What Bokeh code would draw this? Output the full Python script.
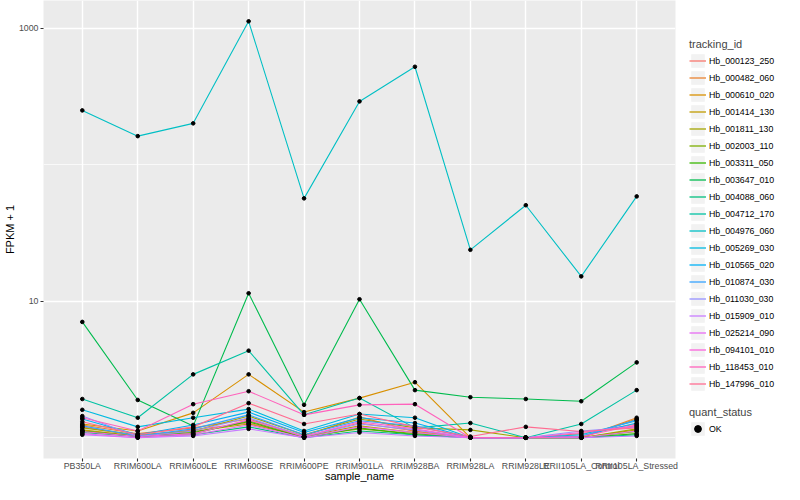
import numpy as np
from bokeh.plotting import figure
from bokeh.layouts import row
from bokeh.models import (FactorRange, Range1d, FixedTicker, Legend, LegendItem,
                          ColumnDataSource, NumeralTickFormatter)
from bokeh.embed import file_html
from bokeh.resources import INLINE

FONT = "Liberation Sans"

samples = ["PB350LA", "RRIM600LA", "RRIM600LE", "RRIM600SE", "RRIM600PE",
           "RRIM901LA", "RRIM928BA", "RRIM928LA", "RRIM928LE",
           "RRII105LA_Control", "RRII105LA_Stressed"]

tracking_ids = ["Hb_000123_250", "Hb_000482_060", "Hb_000610_020", "Hb_001414_130",
                "Hb_001811_130", "Hb_002003_110", "Hb_003311_050", "Hb_003647_010",
                "Hb_004088_060", "Hb_004712_170", "Hb_004976_060", "Hb_005269_030",
                "Hb_010565_020", "Hb_010874_030", "Hb_011030_030", "Hb_015909_010",
                "Hb_025214_090", "Hb_094101_010", "Hb_118453_010", "Hb_147996_010"]

colors = ["#F8766D", "#EA8331", "#D89000", "#C09B00", "#A3A500", "#7CAE00",
          "#39B600", "#00BB4E", "#00BF7D", "#00C1A3", "#00BFC4", "#00BAE0",
          "#00B0F6", "#35A2FF", "#9590FF", "#C77CFF", "#E76BF3", "#FA62DB",
          "#FF62BC", "#FF6C91"]

# FPKM values per gene (plotted as FPKM + 1)
hb_000123_250 = [0.20, 0.03, 0.14, 0.28, 0.02, 0.28, 0.12, 0.00, 0.00, 0.07, 0.26]
hb_000482_060 = [0.24, 0.07, 0.18, 0.37, 0.03, 0.42, 0.11, 0.00, 0.00, 0.00, 0.40]
hb_000610_020 = [0.26, 0.12, 0.52, 1.91, 0.54, 0.95, 1.55, 0.00, 0.00, 0.00, 0.37]
hb_001414_130 = [0.14, 0.03, 0.11, 0.26, 0.02, 0.22, 0.09, 0.00, 0.00, 0.00, 0.14]
hb_001811_130 = [0.18, 0.05, 0.12, 0.44, 0.05, 0.37, 0.18, 0.14, 0.00, 0.00, 0.16]
hb_002003_110 = [0.12, 0.02, 0.07, 0.33, 0.02, 0.16, 0.07, 0.00, 0.00, 0.00, 0.11]
hb_003311_050 = [0.12, 0.02, 0.09, 0.31, 0.00, 0.18, 0.05, 0.00, 0.00, 0.00, 0.07]
hb_003647_010 = [6.05, 0.89, 0.22, 10.43, 0.74, 9.34, 1.23, 0.98, 0.92, 0.85, 2.56]
hb_004088_060 = [0.09, 0.02, 0.05, 0.20, 0.00, 0.12, 0.05, 0.00, 0.00, 0.00, 0.05]
hb_004712_170 = [0.92, 0.40, 1.91, 3.34, 0.47, 0.95, 0.18, 0.28, 0.00, 0.26, 1.23]
hb_004976_060 = [249.0, 161.0, 200.0, 1123.0, 55.7, 290.0, 521.0, 22.8, 49.5, 14.2, 57.6]
hb_005269_030 = [0.60, 0.20, 0.40, 0.62, 0.12, 0.49, 0.40, 0.00, 0.00, 0.05, 0.33]
hb_010565_020 = [0.37, 0.05, 0.24, 0.54, 0.09, 0.40, 0.28, 0.00, 0.00, 0.03, 0.28]
hb_010874_030 = [0.22, 0.03, 0.16, 0.47, 0.05, 0.33, 0.22, 0.00, 0.00, 0.02, 0.35]
hb_011030_030 = [0.44, 0.02, 0.12, 0.40, 0.02, 0.26, 0.14, 0.00, 0.00, 0.12, 0.20]
hb_015909_010 = [0.05, 0.00, 0.03, 0.16, 0.00, 0.09, 0.03, 0.00, 0.00, 0.00, 0.03]
hb_025214_090 = [0.07, 0.00, 0.05, 0.24, 0.00, 0.20, 0.09, 0.00, 0.00, 0.00, 0.12]
hb_094101_010 = [0.11, 0.02, 0.07, 0.35, 0.02, 0.31, 0.16, 0.00, 0.00, 0.09, 0.22]
hb_118453_010 = [0.40, 0.12, 0.76, 1.19, 0.47, 0.74, 0.76, 0.00, 0.00, 0.02, 0.24]
hb_147996_010 = [0.31, 0.05, 0.20, 0.79, 0.26, 0.49, 0.20, 0.02, 0.20, 0.11, 0.18]

series = [hb_000123_250, hb_000482_060, hb_000610_020, hb_001414_130, hb_001811_130,
          hb_002003_110, hb_003311_050, hb_003647_010, hb_004088_060, hb_004712_170,
          hb_004976_060, hb_005269_030, hb_010565_020, hb_010874_030, hb_011030_030,
          hb_015909_010, hb_025214_090, hb_094101_010, hb_118453_010, hb_147996_010]

quant_status = ["OK"]

plotted = [np.array(s) + 1.0 for s in series]
all_vals = np.concatenate(plotted)
lo, hi = np.log10(all_vals.min()), np.log10(all_vals.max())
pad = 0.05 * (hi - lo)

# ---------------- main panel ----------------
p = figure(width=684, height=484, output_backend="svg", toolbar_location=None,
           x_range=FactorRange(factors=samples, range_padding=0.2,
                               range_padding_units="absolute"),
           y_range=Range1d(10 ** (lo - pad), 10 ** (hi + pad)),
           y_axis_type="log",
           background_fill_color="#EBEBEB", border_fill_color="white",
           outline_line_color=None,
           min_border_left=0, min_border_top=0, min_border_bottom=0,
           min_border_right=9)

p.xgrid.grid_line_color = "white"
p.xgrid.grid_line_width = 1.4
p.ygrid.grid_line_color = "white"
p.ygrid.grid_line_width = 1.4
p.ygrid.minor_grid_line_color = "white"
p.ygrid.minor_grid_line_width = 0.7

p.yaxis.ticker = FixedTicker(ticks=[10, 1000], minor_ticks=[1, 100])
p.yaxis.formatter = NumeralTickFormatter(format="0")

for ax in (p.xaxis[0], p.yaxis[0]):
    ax.axis_line_color = None
    ax.major_tick_line_color = "#333333"
    ax.major_tick_line_width = 1.1
    ax.major_tick_out = 3
    ax.major_tick_in = 0
    ax.minor_tick_line_color = None
    ax.major_label_text_font = FONT
    ax.major_label_text_font_size = "8.8px"
    ax.major_label_text_color = "#4D4D4D"
    ax.axis_label_text_font = FONT
    ax.axis_label_text_font_size = "11px"
    ax.axis_label_text_font_style = "normal"
    ax.axis_label_text_color = "black"
    ax.major_label_standoff = 1
    ax.axis_label_standoff = 0

p.xaxis[0].major_label_standoff = -1
p.xaxis[0].axis_label_standoff = -4

p.xaxis.axis_label = "sample_name"
p.yaxis.axis_label = "FPKM + 1"

for name, col, vals in zip(tracking_ids, colors, plotted):
    p.line(x=samples, y=vals, line_color=col, line_width=1.1)

px, py = [], []
for vals in plotted:
    px.extend(samples)
    py.extend(vals.tolist())
p.scatter(x=px, y=py, size=3.6, color="black")

# ---------------- legend panel ----------------
pl = figure(width=100, height=484, output_backend="svg", toolbar_location=None,
            x_range=Range1d(0, 1), y_range=Range1d(0, 1),
            x_axis_location=None, y_axis_location=None,
            background_fill_color="white", border_fill_color="white",
            outline_line_color=None, min_border=0)
pl.xgrid.visible = False
pl.ygrid.visible = False

# legend-only proxies (single NaN row, never drawn)
bg = pl.rect(x=[np.nan], y=[np.nan], width=1, height=1,
             fill_color="#F2F2F2", line_color=None)
items1 = []
for name, col in zip(tracking_ids, colors):
    r = pl.line(x=[np.nan], y=[np.nan], line_color=col, line_width=1.3)
    items1.append(LegendItem(label=name, renderers=[bg, r]))
ok_r = pl.scatter(x=[np.nan], y=[np.nan], size=3.6, color="black")
items2 = [LegendItem(label=quant_status[0], renderers=[bg, ok_r])]


def style_legend(lg):
    lg.padding = 0
    lg.margin = 0
    lg.spacing = 0
    lg.border_line_color = None
    lg.background_fill_alpha = 0
    lg.glyph_width = 17
    lg.glyph_height = 17
    lg.label_height = 17
    lg.label_standoff = 3
    lg.label_text_font = FONT
    lg.label_text_font_size = "8.8px"
    lg.label_text_color = "black"
    lg.title_text_font = FONT
    lg.title_text_font_size = "11px"
    lg.title_text_font_style = "normal"
    lg.title_standoff = 2


leg1 = Legend(items=items1, title="tracking_id", location=(5, 66))
style_legend(leg1)
pl.add_layout(leg1)

leg2 = Legend(items=items2, title="quant_status", location=(5, 21))
style_legend(leg2)
pl.add_layout(leg2)

layout = row(p, pl, spacing=0)
open("out.html", "w").write(file_html(layout, INLINE))
